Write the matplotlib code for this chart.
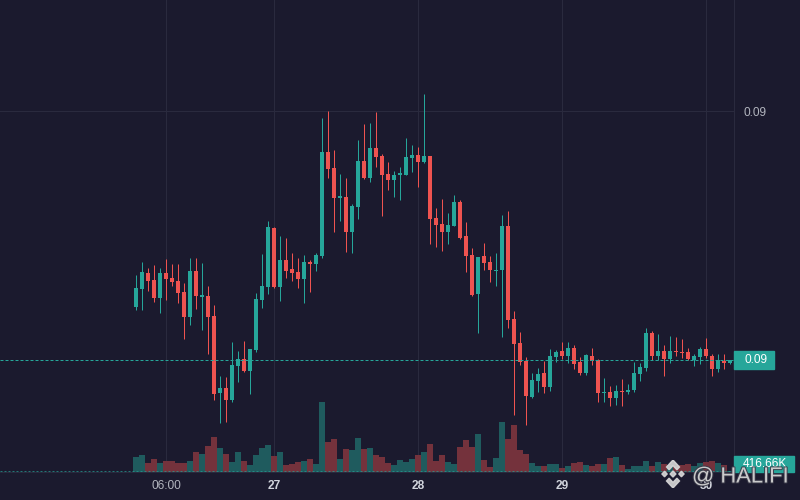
import numpy as np
import matplotlib
matplotlib.use("Agg")
from matplotlib import pyplot as plt
from matplotlib.patches import Rectangle, Polygon
import matplotlib.transforms as mtransforms
import matplotlib.patheffects as pe

plt.rcParams['font.family'] = ['Liberation Sans', 'DejaVu Sans']

# hourly candles, hour 1 = 26th 01:00
open_ = [0.08804, 0.08822, 0.08838, 0.08831, 0.08813, 0.08838, 0.08833, 0.08830, 0.08819, 0.08794,
         0.08840, 0.08814, 0.08815, 0.08795, 0.08718, 0.08723, 0.08711, 0.08745, 0.08752, 0.08740,
         0.08761, 0.08811, 0.08824, 0.08883, 0.08824, 0.08851, 0.08842, 0.08839, 0.08832, 0.08849,
         0.08847, 0.08855, 0.08959, 0.08943, 0.08913, 0.08914, 0.08879, 0.08904, 0.08950, 0.08933,
         0.08963, 0.08955, 0.08937, 0.08931, 0.08936, 0.08936, 0.08953, 0.08956, 0.08949, 0.08955,
         0.08893, 0.08887, 0.08879, 0.08885, 0.08909, 0.08875, 0.08856, 0.08817, 0.08855, 0.08849,
         0.08840, 0.08841, 0.08885, 0.08792, 0.08768, 0.08750, 0.08714, 0.08730, 0.08738, 0.08724,
         0.08754, 0.08760, 0.08755, 0.08763, 0.08749, 0.08738, 0.08755, 0.08751, 0.08718, 0.08719,
         0.08713, 0.08720, 0.08719, 0.08721, 0.08737, 0.08743, 0.08778, 0.08755, 0.08760, 0.08752,
         0.08760, 0.08759, 0.08759, 0.08751, 0.08754, 0.08762, 0.08755, 0.08742, 0.08750, 0.08748]
high = [0.08836, 0.08849, 0.08843, 0.08846, 0.08843, 0.08852, 0.08847, 0.08847, 0.08828, 0.08853,
        0.08853, 0.08848, 0.08825, 0.08806, 0.08735, 0.08734, 0.08769, 0.08760, 0.08770, 0.08762,
        0.08818, 0.08857, 0.08890, 0.08884, 0.08875, 0.08873, 0.08858, 0.08853, 0.08856, 0.08851,
        0.08858, 0.08993, 0.09000, 0.08961, 0.08937, 0.08933, 0.08907, 0.08971, 0.08987, 0.08988,
        0.08999, 0.08957, 0.08949, 0.08940, 0.08944, 0.08973, 0.08966, 0.08964, 0.09017, 0.08955,
        0.08903, 0.08912, 0.08898, 0.08916, 0.08911, 0.08889, 0.08863, 0.08854, 0.08868, 0.08855,
        0.08858, 0.08896, 0.08900, 0.08800, 0.08779, 0.08754, 0.08738, 0.08743, 0.08750, 0.08762,
        0.08761, 0.08769, 0.08769, 0.08766, 0.08754, 0.08757, 0.08763, 0.08752, 0.08733, 0.08725,
        0.08726, 0.08732, 0.08727, 0.08749, 0.08748, 0.08783, 0.08780, 0.08777, 0.08766, 0.08775,
        0.08774, 0.08772, 0.08763, 0.08757, 0.08764, 0.08773, 0.08757, 0.08757, 0.08757, 0.08751]
low = [0.08801, 0.08801, 0.08820, 0.08809, 0.08798, 0.08811, 0.08825, 0.08808, 0.08772, 0.08786,
       0.08802, 0.08781, 0.08757, 0.08711, 0.08688, 0.08689, 0.08709, 0.08729, 0.08739, 0.08717,
       0.08759, 0.08803, 0.08817, 0.08823, 0.08810, 0.08833, 0.08830, 0.08823, 0.08808, 0.08819,
       0.08840, 0.08853, 0.08933, 0.08879, 0.08890, 0.08859, 0.08858, 0.08892, 0.08932, 0.08929,
       0.08944, 0.08895, 0.08921, 0.08914, 0.08911, 0.08936, 0.08939, 0.08924, 0.08948, 0.08867,
       0.08864, 0.08860, 0.08867, 0.08885, 0.08872, 0.08839, 0.08815, 0.08778, 0.08841, 0.08829,
       0.08825, 0.08774, 0.08783, 0.08696, 0.08746, 0.08686, 0.08713, 0.08719, 0.08718, 0.08720,
       0.08749, 0.08752, 0.08748, 0.08742, 0.08736, 0.08736, 0.08746, 0.08709, 0.08709, 0.08705,
       0.08706, 0.08705, 0.08717, 0.08719, 0.08730, 0.08740, 0.08751, 0.08751, 0.08735, 0.08748,
       0.08755, 0.08753, 0.08751, 0.08745, 0.08747, 0.08753, 0.08735, 0.08739, 0.08742, 0.08747]
close = [0.08823, 0.08839, 0.08830, 0.08813, 0.08838, 0.08832, 0.08829, 0.08818, 0.08794, 0.08840,
         0.08815, 0.08816, 0.08794, 0.08717, 0.08723, 0.08711, 0.08746, 0.08752, 0.08740, 0.08762,
         0.08812, 0.08825, 0.08884, 0.08824, 0.08851, 0.08840, 0.08838, 0.08832, 0.08849, 0.08847,
         0.08856, 0.08959, 0.08942, 0.08913, 0.08915, 0.08879, 0.08905, 0.08950, 0.08933, 0.08963,
         0.08954, 0.08936, 0.08931, 0.08936, 0.08938, 0.08954, 0.08956, 0.08949, 0.08955, 0.08892,
         0.08886, 0.08879, 0.08886, 0.08909, 0.08873, 0.08855, 0.08816, 0.08854, 0.08848, 0.08841,
         0.08841, 0.08885, 0.08791, 0.08767, 0.08749, 0.08715, 0.08731, 0.08737, 0.08724, 0.08755,
         0.08759, 0.08755, 0.08763, 0.08747, 0.08738, 0.08756, 0.08750, 0.08718, 0.08719, 0.08713,
         0.08720, 0.08719, 0.08721, 0.08738, 0.08744, 0.08778, 0.08755, 0.08760, 0.08752, 0.08760,
         0.08759, 0.08758, 0.08752, 0.08755, 0.08762, 0.08755, 0.08742, 0.08751, 0.08748, 0.08751]
# volume in thousands
volume = [6200, 7000, 3800, 5400, 3800, 4600, 4600, 3800, 3800, 4600,
          8200, 7400, 10600, 14200, 9800, 7400, 4200, 8200, 4600, 3000,
          7000, 9800, 11000, 6600, 8200, 3000, 3400, 4200, 4600, 5400,
          3400, 28200, 12200, 13400, 5400, 9400, 9000, 13800, 9400, 9800,
          7000, 6200, 3800, 3000, 5000, 4200, 5400, 7000, 8200, 11400,
          4600, 7000, 4200, 3400, 10200, 13000, 10200, 15400, 5000, 2200,
          5800, 20200, 13400, 19000, 9000, 7400, 3800, 2600, 2600, 3400,
          3400, 1800, 2600, 3800, 4200, 3000, 2600, 3400, 3400, 5800,
          6200, 3000, 1400, 2600, 2600, 4600, 2600, 4200, 3200, 2800,
          2400, 2800, 3200, 2400, 3600, 4000, 4400, 3600, 2800, 416.66]

tick_hours = [6, 24, 48, 72, 96]
tick_labels = ['06:00', '27', '28', '29', '30']

BG = '#1b1a2e'
GRID = '#2a2a3e'
UP = '#26a69a'
DOWN = '#ef5350'
PX = 0.72  # one pixel in points

o = np.array(open_)
c = np.array(close)
h = np.array(high)
l = np.array(low)
v = np.array(volume)
x = np.arange(1, len(o) + 1)
up = c >= o
cols = np.where(up, UP, DOWN)

fig = plt.figure(figsize=(8, 5), dpi=100, facecolor=BG)
axv = fig.add_axes([0, 28 / 500, 734 / 800, 472 / 500])
ax = axv.twinx()
axv.set_facecolor(BG)
ax.patch.set_visible(False)

axv.set_xlim(-21.667, 100.667)
axv.set_ylim(0, 472 * 400)
ax.set_ylim(0.08639, 0.09111)

# grid
for t in tick_hours:
    axv.axvline(t, color=GRID, lw=PX, zorder=0)
ax.axhline(0.09, color=GRID, lw=PX, zorder=0)

# volume bars
vcols = np.where(up, '#1f5b5e', '#74323c')
axv.bar(x, v, width=0.85, color=vcols, zorder=1)
axv.axhline(v[-1], color=UP, lw=PX, ls=(0, (2, 2)), alpha=0.7, zorder=2)

# candles
ax.vlines(x, l, h, colors=cols, lw=PX, zorder=3)
body_lo = np.minimum(o, c)
body_h = np.maximum(np.abs(c - o), 0.00001)
ax.bar(x, body_h, bottom=body_lo, width=0.8, color=cols, zorder=4)

# last price line
ax.axhline(c[-1], color=UP, lw=PX, ls=(0, (3, 2)), zorder=5)

# axes styling
for a in (ax, axv):
    for s in a.spines.values():
        s.set_visible(False)
axv.spines['right'].set_visible(True)
axv.spines['right'].set_color(GRID)
axv.spines['bottom'].set_visible(True)
axv.spines['bottom'].set_color(GRID)
axv.set_yticks([])
axv.set_xticks(tick_hours)
axv.set_xticklabels(tick_labels)
axv.tick_params(axis='x', length=0, pad=6, labelsize=8.6, colors='#b2b5be')
for lab in axv.get_xticklabels()[1:]:
    lab.set_fontweight('bold')
    lab.set_color('#d1d4dc')

ax.set_yticks([0.09])
ax.set_yticklabels(['0.09'])
ax.tick_params(axis='y', length=0, pad=7.2, labelsize=8.6, colors='#b2b5be')

# last price label
blend = mtransforms.blended_transform_factory(ax.transAxes, ax.transData)
ax.add_patch(Rectangle((1.0, c[-1] - 0.000085), 40 / 734, 0.00017, transform=blend,
                       color=UP, clip_on=False, zorder=6))
ax.text(1.0 + 10 / 734, c[-1], '%.2f' % c[-1], transform=blend, ha='left', va='center',
        fontsize=8.6, color='#ffffff', clip_on=False, zorder=7)

# volume label
axv.add_patch(Rectangle((1.0, 0.0), 60 / 734, 16 / 472, transform=axv.transAxes,
                        color=UP, clip_on=False, zorder=6))
axv.text(1.0 + 9 / 734, 8 / 472, '%.2fK' % v[-1], transform=axv.transAxes, ha='left',
         va='center', fontsize=8.6, color='#ffffff', clip_on=False, zorder=7)

# watermark
wm = '#d8d8d8'
shadow = [pe.withStroke(linewidth=1.5, foreground='#3a3a48')]
fig.text(692 / 800, 1 - 477 / 500, '@ HALIFI', fontsize=15.8, color=wm, alpha=0.9,
         ha='left', va='center', path_effects=shadow, zorder=10)
lg = fig.add_axes([660 / 800, 1 - 488 / 500, 26 / 800, 28 / 500])
lg.set_xlim(-1, 1)
lg.set_ylim(-1, 1)
lg.axis('off')
def diamond(cx, cy, r):
    return [(cx, cy + r), (cx + r, cy), (cx, cy - r), (cx - r, cy)]
for pts in (diamond(0, 0, 0.22), diamond(-0.65, 0, 0.2), diamond(0.65, 0, 0.2)):
    lg.add_patch(Polygon(pts, closed=True, color=wm, alpha=0.9))
top = [(0, 1), (0.5, 0.5), (0.3, 0.3), (0, 0.6), (-0.3, 0.3), (-0.5, 0.5)]
bot = [(px, -py) for px, py in top]
for pts in (top, bot):
    lg.add_patch(Polygon(pts, closed=True, color=wm, alpha=0.9))

fig.savefig('out.png', dpi=100, facecolor=BG)
